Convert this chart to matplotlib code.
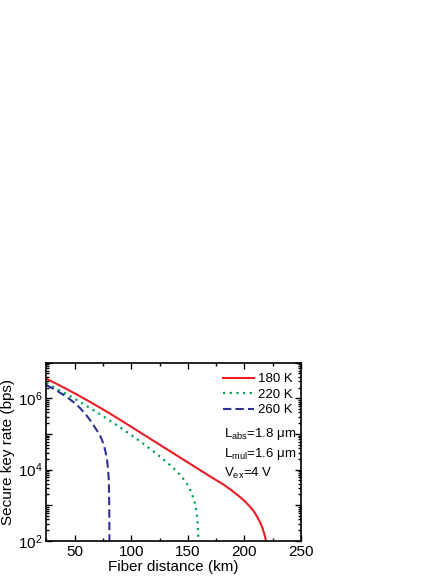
import numpy as np
import matplotlib
matplotlib.use('Agg')
import matplotlib.pyplot as plt
from matplotlib.ticker import LogLocator, MultipleLocator, FuncFormatter

plt.rcParams['font.family'] = ['Liberation Sans', 'DejaVu Sans']
plt.rcParams['mathtext.fontset'] = 'custom'
plt.rcParams['mathtext.rm'] = 'Liberation Sans'
plt.rcParams['mathtext.it'] = 'Liberation Sans:italic'
plt.rcParams['mathtext.bf'] = 'Liberation Sans:bold'

# curves: fiber distance (km) and log10 of key rate (bps)
red_x = [25, 37.5, 50, 62.5, 75, 87.5, 100, 112.5, 125, 137.5, 150, 160, 170,
         181.4, 188, 196, 200, 204, 208, 211, 213.8, 216, 217.4, 218.3, 218.9,
         219.1]
red_log = [6.55, 6.35, 6.14, 5.92, 5.69, 5.45, 5.20, 4.95, 4.70, 4.45, 4.20,
           4.00, 3.80, 3.58, 3.43, 3.23, 3.12, 2.99, 2.84, 2.69, 2.52, 2.35,
           2.21, 2.10, 2.02, 2.0]

green_x = [25, 37.5, 50, 62.5, 75, 87.5, 100, 110, 120, 130, 137.5, 142.5,
           146.5, 150, 152.5, 155, 156.5, 157.5, 158.3, 158.8, 159.1, 159.3]
green_log = [6.43, 6.21, 5.99, 5.75, 5.50, 5.24, 4.97, 4.74, 4.50, 4.24, 4.03,
             3.87, 3.72, 3.56, 3.40, 3.19, 3.02, 2.85, 2.62, 2.40, 2.20, 2.0]

blue_x = [25, 30, 35, 40, 45, 50, 55, 60, 65, 70, 73, 75.5, 77.3, 78.6, 79.5,
          80.1, 80.4, 80.6, 80.7, 80.75]
blue_log = [6.37, 6.29, 6.20, 6.10, 5.99, 5.87, 5.72, 5.54, 5.33, 5.08, 4.92,
            4.72, 4.50, 4.27, 4.03, 3.75, 3.40, 2.90, 2.40, 2.0]

labels = ['180 K', '220 K', '260 K']
colors = ['#ED1C24', '#00A651', '#2E3192']
params = [r'L$_{\rm abs}$=1.8 μm', r'L$_{\rm mul}$=1.6 μm', r'V$_{\rm ex}$=4 V']

fig = plt.figure(figsize=(4.47, 5.78), dpi=100)
ax = fig.add_axes([0.1036, 0.0645, 0.5698, 0.308])

ax.plot(red_x, 10 ** np.array(red_log), color=colors[0], lw=1.5,
        label=labels[0])
ax.plot(green_x, 10 ** np.array(green_log), color=colors[1], lw=1.6,
        linestyle=(0, (1, 2)), label=labels[1])
ax.plot(blue_x, 10 ** np.array(blue_log), color=colors[2], lw=1.5,
        linestyle=(0, (4, 2)), label=labels[2])

ax.set_yscale('log')
ax.set_xlim(25, 250)
ax.set_ylim(1e2, 1e7)

ax.xaxis.set_major_locator(MultipleLocator(50))
ax.xaxis.set_minor_locator(MultipleLocator(25))
ax.yaxis.set_major_locator(LogLocator(base=10, numticks=20))
ax.yaxis.set_minor_locator(LogLocator(base=10, subs=np.arange(2, 10), numticks=20))
ax.yaxis.set_major_formatter(FuncFormatter(
    lambda v, p: r'$10^{%d}$' % round(np.log10(v)) if round(np.log10(v)) % 2 == 0 else ''))

ax.tick_params(which='both', direction='in', top=True, right=True, width=1,
               labelsize=11)
ax.tick_params(which='major', length=4, pad=3)
ax.tick_params(which='minor', length=2)
for s in ax.spines.values():
    s.set_linewidth(1.2)

ax.set_xlabel('Fiber distance (km)', fontsize=11, labelpad=1)
ax.set_ylabel('Secure key rate (bps)', fontsize=11, labelpad=2)

ax.legend(loc='upper right', bbox_to_anchor=(0.967, 0.942), frameon=False,
          fontsize=9.5, handlelength=2.35, handletextpad=0.3, labelspacing=0.25,
          borderpad=0, borderaxespad=0)

for i, t in enumerate(params):
    ax.text(0.698, [0.584, 0.469, 0.356][i], t, transform=ax.transAxes,
            fontsize=9.5, ha='left', va='baseline')

fig.savefig('out.png', dpi=100)
